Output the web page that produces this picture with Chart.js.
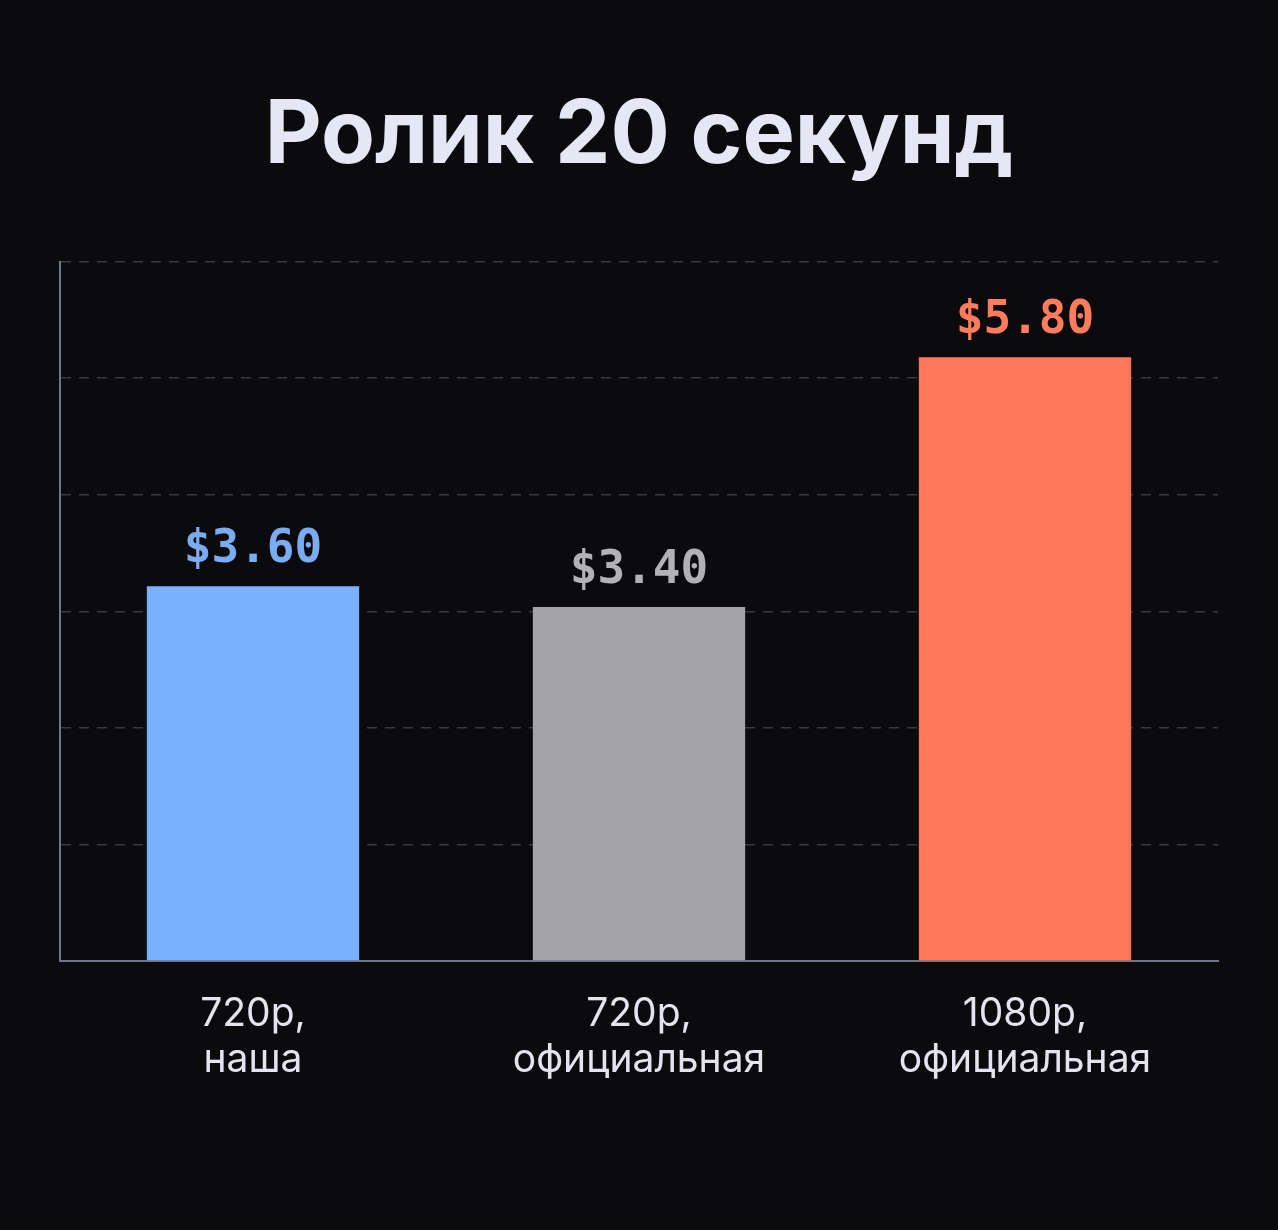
<!DOCTYPE html>
<html>
<head>
<meta charset="utf-8">
<script src="https://cdn.jsdelivr.net/npm/chart.js@4"></script>
<style>
  html, body { margin: 0; padding: 0; background: #0b0b0e; }
  #wrap { width: 1278px; height: 1230px; }
</style>
</head>
<body>
<div id="wrap"><canvas id="barChart"></canvas></div>
<script>
const categories = [["720p,", "наша"], ["720p,", "официальная"], ["1080p,", "официальная"]];
const prices = [3.6, 3.4, 5.8];
const priceLabels = ["$3.60", "$3.40", "$5.80"];
const barColors = ["#79b1fc", "#a3a3a8", "#ff775a"];
const labelColors = ["#7aacf2", "#b2b2b6", "#ff7b5d"];
const yMax = 6.72;
const gridCount = 6;

const valueLabels = {
    id: 'valueLabels',
    afterDatasetsDraw(chart) {
        const ctx = chart.ctx;
        const meta = chart.getDatasetMeta(0);
        ctx.save();
        ctx.font = 'bold 46px "DejaVu Sans Mono"';
        ctx.textAlign = 'center';
        ctx.textBaseline = 'alphabetic';
        meta.data.forEach((bar, i) => {
            ctx.fillStyle = labelColors[i];
            ctx.fillText(priceLabels[i], bar.x, bar.y - 24);
        });
        ctx.restore();
    }
};

const background = {
    id: 'background',
    beforeDraw(chart) {
        const ctx = chart.ctx;
        ctx.save();
        ctx.fillStyle = '#0b0b0e';
        ctx.fillRect(0, 0, chart.width, chart.height);
        ctx.restore();
    }
};

new Chart(document.getElementById('barChart'), {
    type: 'bar',
    data: {
        labels: categories,
        datasets: [{
            data: prices,
            backgroundColor: barColors,
            borderWidth: 0,
            barPercentage: 0.55,
            categoryPercentage: 1
        }]
    },
    options: {
        responsive: true,
        maintainAspectRatio: false,
        animation: false,
        layout: { padding: { left: 60, right: 60, bottom: 117 } },
        plugins: {
            legend: { display: false },
            tooltip: { enabled: false },
            title: {
                display: true,
                text: 'Ролик 20 секунд',
                color: '#e6e6f4',
                font: { family: 'Inter', size: 88, weight: 'bold' },
                padding: { top: 84, bottom: 72 }
            }
        },
        scales: {
            x: {
                grid: { display: false, drawTicks: false },
                border: { display: true, color: '#6e7489', width: 2 },
                ticks: {
                    color: '#e4e4ee',
                    font: { family: 'Inter', size: 39, lineHeight: 1.18 },
                    padding: 30,
                    maxRotation: 0
                }
            },
            y: {
                min: 0,
                max: yMax,
                afterBuildTicks(scale) {
                    const t = [];
                    for (let i = 0; i <= gridCount; i++) t.push({ value: yMax * i / gridCount });
                    scale.ticks = t;
                },
                afterFit(scale) { scale.width = 0; },
                grid: { color: '#373a42', lineWidth: 1.5, drawTicks: false },
                border: { display: true, color: '#6e7489', width: 2, dash: [10, 8] },
                ticks: { display: false }
            }
        }
    },
    plugins: [background, valueLabels]
});
</script>
</body>
</html>
